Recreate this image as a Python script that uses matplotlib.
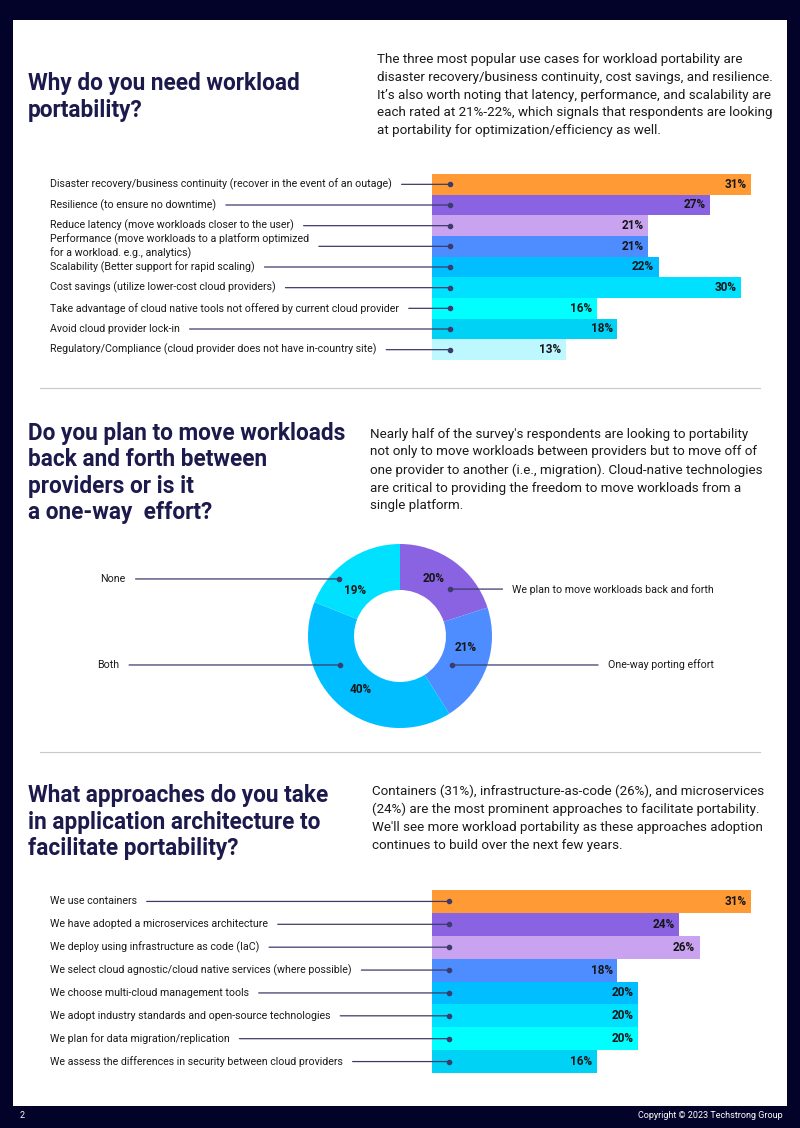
import matplotlib
matplotlib.use("Agg")
import matplotlib.pyplot as plt
from matplotlib.transforms import blended_transform_factory

plt.rcParams['font.family'] = ['Roboto', 'DejaVu Sans']

# ---- data ----
reasons = [
    "Disaster recovery/business continuity (recover in the event of an outage)",
    "Resilience (to ensure no downtime)",
    "Reduce latency (move workloads closer to the user)",
    "Performance (move workloads to a platform optimized\nfor a workload. e.g., analytics)",
    "Scalability (Better support for rapid scaling)",
    "Cost savings (utilize lower-cost cloud providers)",
    "Take advantage of cloud native tools not offered by current cloud provider",
    "Avoid cloud provider lock-in",
    "Regulatory/Compliance (cloud provider does not have in-country site)",
]
reason_pct = [31, 27, 21, 21, 22, 30, 16, 18, 13]

move_labels = ["We plan to move workloads back and forth", "One-way porting effort", "Both", "None"]
move_pct = [20, 21, 40, 19]

approaches = [
    "We use containers",
    "We have adopted a microservices architecture",
    "We deploy using infrastructure as code (IaC)",
    "We select cloud agnostic/cloud native services (where possible)",
    "We choose multi-cloud management tools",
    "We adopt industry standards and open-source technologies",
    "We plan for data migration/replication",
    "We assess the differences in security between cloud providers",
]
approach_pct = [31, 24, 26, 18, 20, 20, 20, 16]

# ---- styles ----
NAVY = "#03032a"
TITLE = "#1c1a4c"
BODY = "#1a1a1a"
LINE = "#3d3b6b"
reason_colors = ["#ff9a35", "#8a63e3", "#c9a2f0", "#4d8dff", "#00beff",
                 "#00e0ff", "#00ffff", "#00d2f5", "#bdf7ff"]
move_colors = ["#8a63e3", "#4d8dff", "#00beff", "#00e0ff"]
approach_colors = ["#ff9a35", "#8a63e3", "#c9a2f0", "#4d8dff", "#00beff",
                   "#00e0ff", "#00ffff", "#00d2f5"]
LABEL_FS = 7.7
PCT_FS = 8.5

W, H = 800, 1128
fig = plt.figure(figsize=(W / 100, H / 100), dpi=100)
fig.patch.set_facecolor(NAVY)

bg = fig.add_axes([0, 0, 1, 1])
bg.set_xlim(0, W)
bg.set_ylim(H, 0)
bg.axis("off")
bg.add_patch(plt.Rectangle((13, 20), 774, 1086, facecolor="white", edgecolor="none"))

# footer
bg.text(20, 1116, "2", color="white", fontsize=6.5, va="center", ha="left")
bg.text(783, 1116, "Copyright \u00a9 2023 Techstrong Group", color="white",
        fontsize=6.5, va="center", ha="right")

# separators
for y in (388, 752):
    bg.plot([40, 760], [y, y], color="#c8c8d0", lw=0.8)

# titles
title_kw = dict(color=TITLE, fontsize=16.3, fontweight="bold", ha="left", va="center",
                linespacing=1.2)
bg.text(28, 97, "Why do you need workload\nportability?", **title_kw)
bg.text(28, 473, "Do you plan to move workloads\nback and forth between\nproviders or is it\na one-way  effort?", **title_kw)
bg.text(28, 822, "What approaches do you take\nin application architecture to\nfacilitate portability?", **title_kw)

# paragraphs
para_kw = dict(color=BODY, fontsize=9.6, ha="left", va="center", linespacing=1.47)
bg.text(377, 95,
        "The three most popular use cases for workload portability are\n"
        "disaster recovery/business continuity, cost savings, and resilience.\n"
        "It\u2019s also worth noting that latency, performance, and scalability are\n"
        "each rated at 21%-22%, which signals that respondents are looking\n"
        "at portability for optimization/efficiency as well.", **para_kw)
bg.text(370, 470,
        "Nearly half of the survey's respondents are looking to portability\n"
        "not only to move workloads between providers but to move off of\n"
        "one provider to another (i.e., migration). Cloud-native technologies\n"
        "are critical to providing the freedom to move workloads from a\n"
        "single platform.", **para_kw)
bg.text(372, 818,
        "Containers (31%), infrastructure-as-code (26%), and microservices\n"
        "(24%) are the most prominent approaches to facilitate portability.\n"
        "We'll see more workload portability as these approaches adoption\n"
        "continues to build over the next few years.", **para_kw)


def px_axes(x0, y0, x1, y1):
    return fig.add_axes([x0 / W, 1 - y1 / H, (x1 - x0) / W, (y1 - y0) / H])


def bar_block(top, bottom, labels, values, colors, dot_px):
    scale = 10.3  # px per percent
    ax = px_axes(432, top, 432 + scale * 35, bottom)
    ax.patch.set_alpha(0)
    ax.axis("off")
    n = len(values)
    ax.set_xlim(0, 35)
    ax.set_ylim(n - 0.5, -0.5)
    ax.barh(range(n), values, height=1.0, color=colors, zorder=1)
    tr = blended_transform_factory(bg.transData, ax.transData)
    for i, (lab, v) in enumerate(zip(labels, values)):
        ax.text(v - 0.45, i, f"{v}%", ha="right", va="center", fontsize=PCT_FS,
                fontweight="bold", color="#161616", zorder=5)
        ax.annotate(lab, xy=(dot_px, i), xycoords=tr, xytext=(50, i), textcoords=tr,
                    ha="left", va="center", fontsize=LABEL_FS, color=BODY,
                    annotation_clip=False, linespacing=1.3,
                    arrowprops=dict(arrowstyle="-", color=LINE, lw=0.9, shrinkA=5, shrinkB=0),
                    zorder=4)
        ax.plot([dot_px], [i], "o", ms=3, color=LINE, transform=tr, clip_on=False, zorder=6)
    return ax


bar_block(174, 360, reasons, reason_pct, reason_colors, 450)
bar_block(890, 1073, approaches, approach_pct, approach_colors, 449)

# donut
dax = px_axes(308, 544, 492, 728)
dax.pie(move_pct, colors=move_colors, startangle=90, counterclock=False,
        radius=1, wedgeprops=dict(width=0.5, edgecolor="none"), frame=True)
dax.set_xlim(-1, 1)
dax.set_ylim(-1, 1)
dax.axis("off")

# label positions (percent text) and leader anchors, in donut units
pct_pos = [(0.37, 0.62), (0.71, -0.13), (-0.43, -0.58), (-0.49, 0.49)]
anchors = [(0.54, 0.51), (0.565, -0.315), (-0.65, -0.315), (-0.66, 0.62)]
text_x = [1.22, 3.41, -3.05, -2.98]
text_ha = ["left", "right", "right", "right"]
for lab, v, (lx, ly), (ax_, ay), tx, ha in zip(move_labels, move_pct, pct_pos, anchors, text_x, text_ha):
    dax.text(lx, ly, f"{v}%", ha="center", va="center", fontsize=PCT_FS,
             fontweight="bold", color="#161616")
    dax.annotate(lab, xy=(ax_, ay), xytext=(tx, ay), ha=ha, va="center",
                 fontsize=LABEL_FS, color=BODY, annotation_clip=False,
                 arrowprops=dict(arrowstyle="-", color=LINE, lw=0.9, shrinkA=5, shrinkB=0))
    dax.plot([ax_], [ay], "o", ms=3, color=LINE, clip_on=False)

fig.savefig("out.png", dpi=100, facecolor=NAVY)
